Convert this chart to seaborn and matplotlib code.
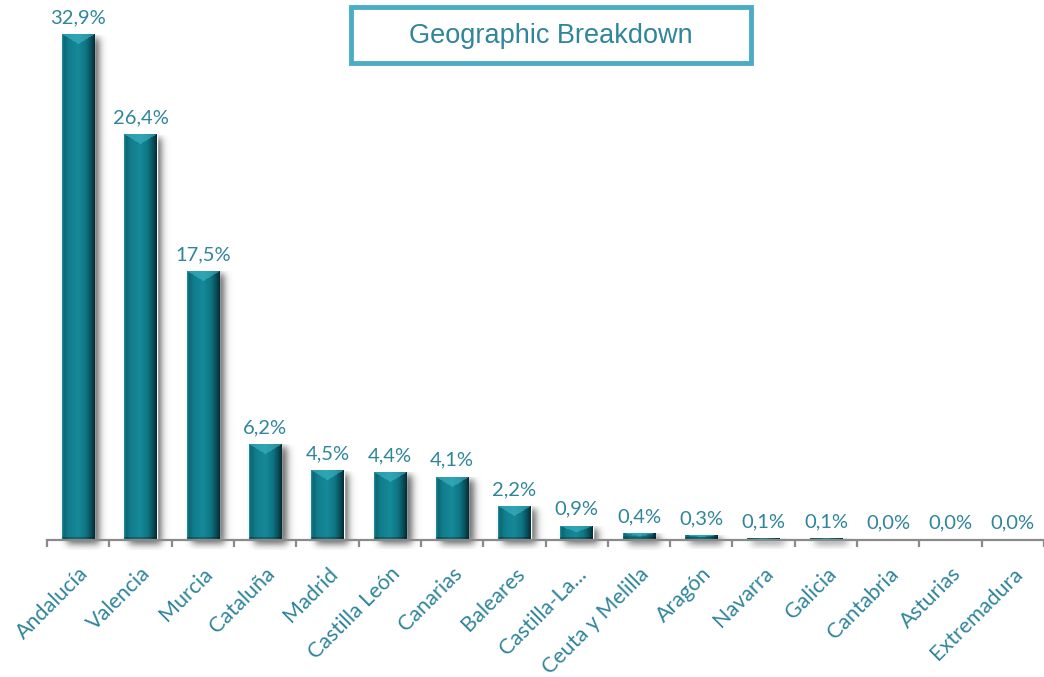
import numpy as np
import pandas as pd
import matplotlib.pyplot as plt
from matplotlib.colors import to_rgb
from matplotlib.patches import Rectangle
import seaborn as sns

regions = ['Andalucía', 'Valencia', 'Murcia', 'Cataluña', 'Madrid', 'Castilla León',
           'Canarias', 'Baleares', 'Castilla-La...', 'Ceuta y Melilla', 'Aragón',
           'Navarra', 'Galicia', 'Cantabria', 'Asturias', 'Extremadura']
shares = [32.9, 26.4, 17.5, 6.2, 4.5, 4.4, 4.1, 2.2, 0.9, 0.4, 0.3, 0.1, 0.1, 0.0, 0.0, 0.0]
title = 'Geographic Breakdown'

TEAL_TEXT = '#2f859a'
BOX_EDGE = '#4bacc6'
AXIS_GREY = '#8a8a8a'

# horizontal colour profile across a bar (left edge -> right edge)
profile_stops = [(0.00, '#2594a2'), (0.06, '#0c6673'), (0.20, '#117d8c'),
                 (0.48, '#168999'), (0.72, '#0f7684'), (0.88, '#094f5a'),
                 (1.00, '#032a32')]
bevel_color = np.array(to_rgb('#44bccc'))

df = pd.DataFrame({'region': regions, 'share': shares})

sns.set_style('white')
plt.rcParams['font.family'] = ['Lato', 'DejaVu Sans']

fig = plt.figure(figsize=(10.44, 6.77), dpi=100)
ax = fig.add_axes([47 / 1044, 1 - 540 / 677, 997 / 1044, 540 / 677])

sns.barplot(data=df, x='region', y='share', color=profile_stops[3][1],
            saturation=1, width=0.52, ax=ax, zorder=2)

xlim = (-0.5, len(regions) - 0.5)
ylim = (0, 35.18)
px_x = 997 / (xlim[1] - xlim[0])
px_y = 540 / (ylim[1] - ylim[0])


def bar_image(w_px, h_px):
    nx = max(int(round(w_px)), 2)
    ny = max(int(round(h_px)), 1)
    u = (np.arange(nx) + 0.5) / nx
    cols = np.array([to_rgb(c) for _, c in profile_stops])
    pos = [p for p, _ in profile_stops]
    row = np.stack([np.interp(u, pos, cols[:, k]) for k in range(3)], axis=1)
    img = np.repeat(row[None, :, :], ny, axis=0)
    d = np.arange(ny)[:, None] + 0.5
    bevel = min(10.0, h_px * 0.45)
    tri = d < bevel * (1 - np.abs(2 * u[None, :] - 1))
    img[tri] = img[tri] * 0.45 + bevel_color * 0.55
    bottom = d > ny - 3
    img[bottom[:, 0]] *= 0.75
    return img


def shadow_image(w_px, h_px, pad=14):
    nx = int(w_px + pad + 4)
    ny = int(h_px + 10)
    xs = np.arange(nx) - 2 + 0.5
    ys = h_px - (np.arange(ny) + 0.5)  # pixel height above baseline
    s = lambda t: 1 / (1 + np.exp(-t / 2.2))
    ax_ = s(xs - 5) * s(w_px + 5 - xs)
    ay_ = s(ys + 4) * s(h_px - 3 - ys)
    alpha = 0.6 * ay_[:, None] * ax_[None, :]
    img = np.zeros((ny, nx, 4))
    img[..., 3] = alpha
    ext = (-2, nx - 2, h_px - ny, h_px)
    return img, ext


for patch in ax.patches:
    x0, w, h = patch.get_x(), patch.get_width(), patch.get_height()
    w_px, h_px = w * px_x, h * px_y
    if h_px >= 1:
        simg, sext = shadow_image(w_px, h_px)
        ax.imshow(simg, extent=(x0 + sext[0] / px_x, x0 + sext[1] / px_x,
                                sext[2] / px_y, sext[3] / px_y),
                  aspect='auto', zorder=1, clip_on=False, interpolation='bilinear')
        ax.imshow(bar_image(w_px, h_px), extent=(x0, x0 + w, 0, h),
                  aspect='auto', zorder=2.1, clip_path=patch, interpolation='bilinear')

ax.set_xlim(*xlim)
ax.set_ylim(*ylim)

ax.bar_label(ax.containers[0], labels=[f'{v:.1f}%'.replace('.', ',') for v in shares],
             padding=6, color=TEAL_TEXT, fontsize=14.5)

sns.despine(ax=ax, left=True)
ax.spines['bottom'].set_color(AXIS_GREY)
ax.spines['bottom'].set_linewidth(1.6)
ax.spines['bottom'].set_zorder(3)
ax.set_yticks([])
ax.set_xlabel('')
ax.set_ylabel('')

ax.set_xticks(np.arange(len(regions)))
ax.set_xticks(np.arange(len(regions) + 1) - 0.5, minor=True)
ax.tick_params(axis='x', which='both', bottom=True)
ax.tick_params(axis='x', which='major', length=0, pad=17)
ax.tick_params(axis='x', which='minor', length=5, width=1.6, color=AXIS_GREY, direction='out')
ax.set_xticklabels(regions, rotation=45, ha='right', va='top', rotation_mode='anchor',
                   color=TEAL_TEXT, fontsize=15.5)

# title box
box = Rectangle((351 / 1044, 1 - 63 / 677), 400 / 1044, 56 / 677,
                transform=fig.transFigure, facecolor='white', edgecolor=BOX_EDGE,
                linewidth=3.5, zorder=5)
fig.add_artist(box)
fig.text(551 / 1044, 1 - 36 / 677, title, ha='center', va='center', fontsize=19.5,
         color=TEAL_TEXT, family=['Liberation Sans', 'DejaVu Sans'], zorder=6)

fig.savefig('out.png', dpi=100)
